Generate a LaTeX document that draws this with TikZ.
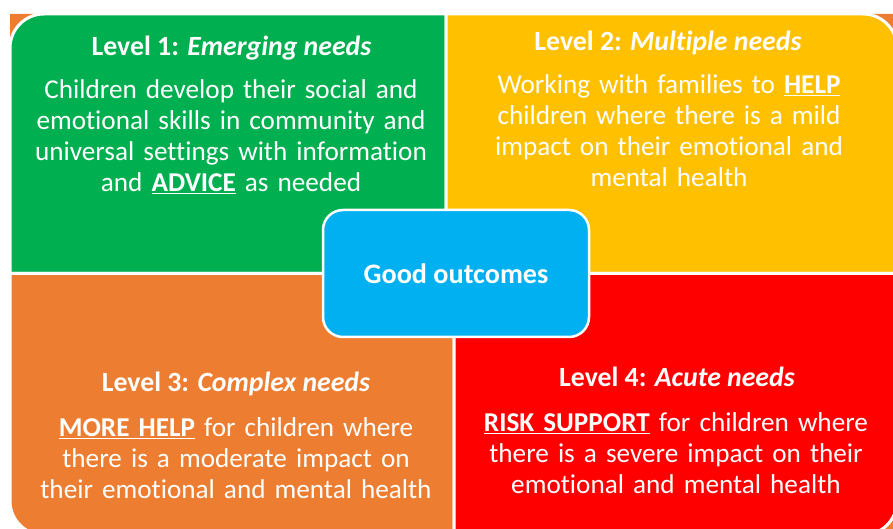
\documentclass[tikz,border=0pt]{standalone}
\usepackage{fontspec}
\setmainfont{Carlito}[Ligatures={NoCommon}]

\definecolor{lvlgreen}{HTML}{00B050}
\definecolor{lvlyellow}{HTML}{FFC000}
\definecolor{lvlorange}{HTML}{ED7D31}
\definecolor{lvlred}{HTML}{FF0000}
\definecolor{hubblue}{HTML}{00B0F0}

\begin{document}
\begin{tikzpicture}[
    x=1pt, y=1pt,
    quad/.style={draw=white, line width=3pt},
    heading/.style={anchor=base, text=white, inner sep=0pt, font=\fontsize{27.8}{30.6}\selectfont\bfseries},
    body/.style={anchor=base, text=white, inner sep=0pt, text width=460pt, align=center, font=\fontsize{27.2}{30.8}\selectfont},
    hub/.style={rectangle, draw=white, line width=2.5pt, fill=hubblue, rounded corners=20pt, minimum width=266pt, minimum height=127pt, text=white, font=\fontsize{28.2}{30}\selectfont\bfseries}
]

\useasboundingbox (0,0) rectangle (893,529);

% Backdrop
\fill[lvlorange] (897,-6) -- (897,515) -- (10,515) -- (10,28) arc[start angle=180, end angle=270, radius=34] -- cycle;

% Quadrants
\filldraw[quad, fill=lvlgreen] (446,255.5) -- (10,255.5) -- (10,481) arc[start angle=180, end angle=90, radius=34] -- (446,515) -- cycle;
\filldraw[quad, fill=lvlyellow] (446,255.5) -- (446,515) -- (863,515) arc[start angle=90, end angle=0, radius=34] -- (897,255.5) -- cycle;
\filldraw[quad, fill=lvlorange] (454,255.5) -- (10,255.5) -- (10,28) arc[start angle=180, end angle=270, radius=34] -- (454,-6) -- cycle;
\filldraw[quad, fill=lvlred] (454,255.5) -- (897,255.5) -- (897,28) arc[start angle=0, end angle=-90, radius=34] -- (454,-6) -- cycle;

% Level 1
\node[heading] (level1_title) at (231.5,473) {Level 1: \textit{Emerging needs}};
\node[body] (level1_text) at (231,430) {Children develop their social and\\emotional skills in community and\\universal settings with information\\and \underline{\textbf{ADVICE}} as needed};

% Level 2
\node[heading] (level2_title) at (668,478) {Level 2: \textit{Multiple needs}};
\node[body] (level2_text) at (669,435) {Working with families to \underline{\textbf{HELP}}\\children where there is a mild\\impact on their emotional and\\mental health};

% Level 3
\node[heading] (level3_title) at (236,137) {Level 3: \textit{Complex needs}};
\node[body] (level3_text) at (236,92) {\underline{\textbf{MORE HELP}} for children where\\there is a moderate impact on\\their emotional and mental health};

% Level 4
\node[heading] (level4_title) at (677,142) {Level 4: \textit{Acute needs}};
\node[body] (level4_text) at (676,97) {\underline{\textbf{RISK SUPPORT}} for children where\\there is a severe impact on their\\emotional and mental health};

% Centre
\node[hub] (outcomes) at (456,255.5) {Good outcomes};

\end{tikzpicture}
\end{document}
